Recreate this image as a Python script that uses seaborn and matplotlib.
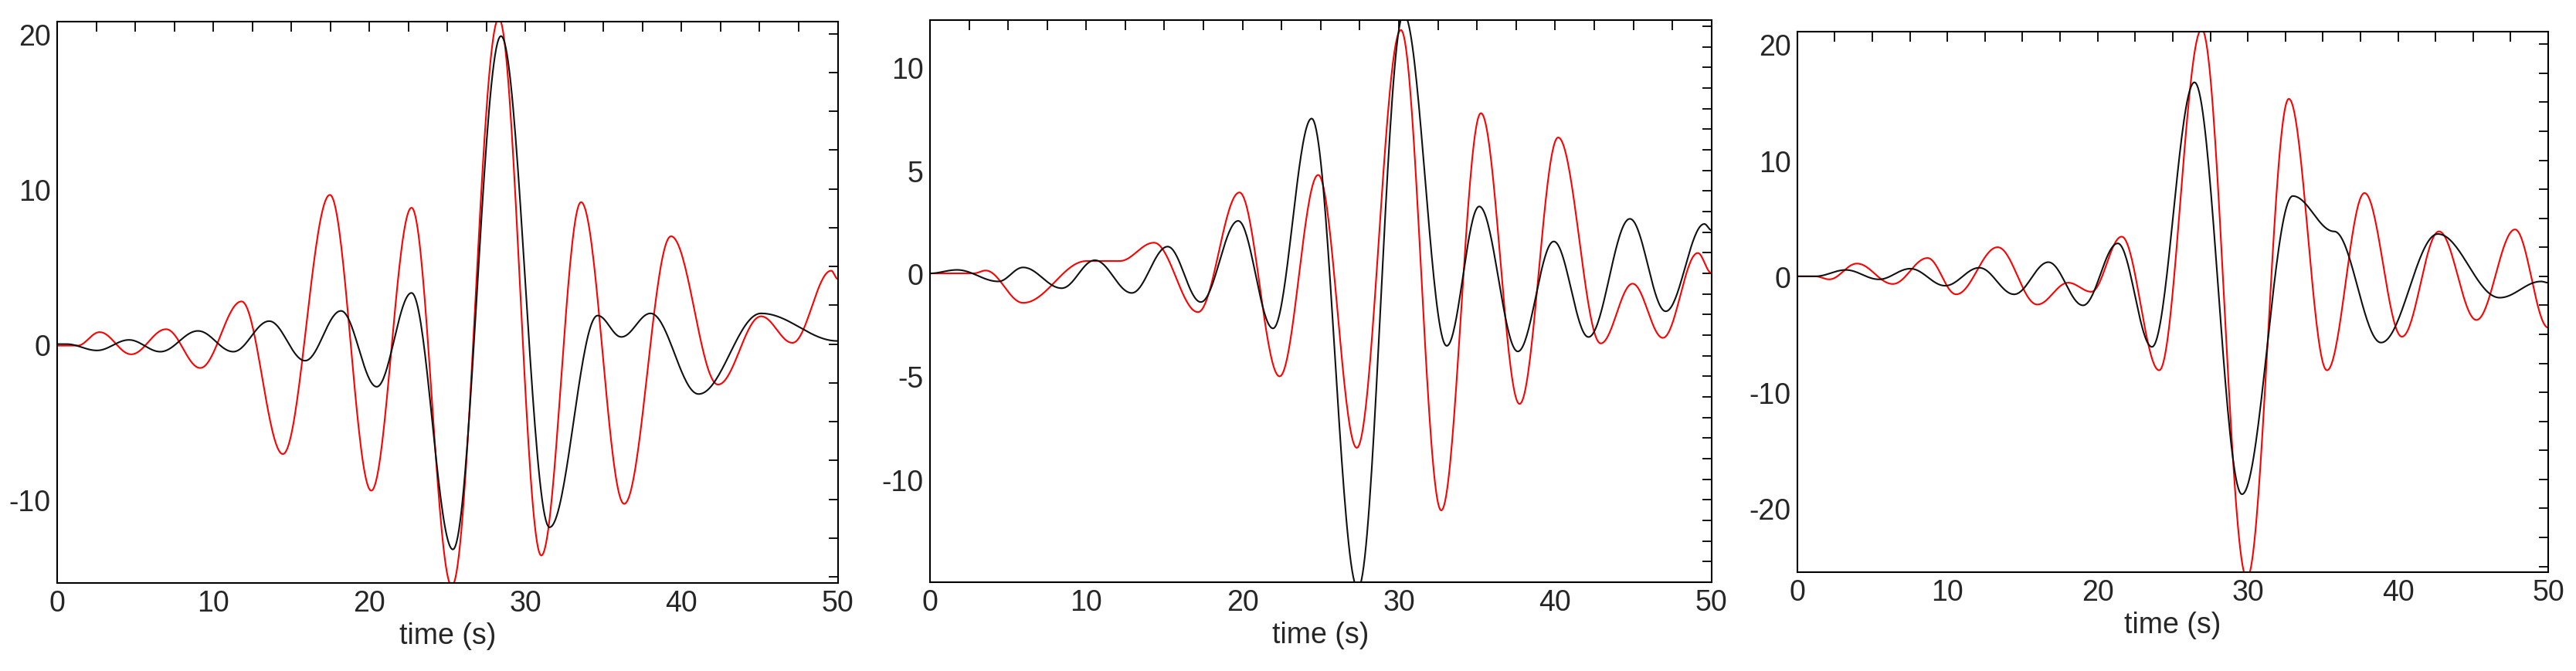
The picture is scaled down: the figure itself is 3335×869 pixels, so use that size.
import numpy as np
import pandas as pd
import matplotlib
matplotlib.use("Agg")
import matplotlib.pyplot as plt
from matplotlib.ticker import MultipleLocator
import seaborn as sns

# extrema: (time s, value)
p1_red_t = [0, 1.3, 2.72, 4.74, 6.97, 9.16, 11.81, 14.46, 17.47, 20.12, 22.70, 25.28, 28.29, 31.01, 33.56, 36.32, 39.32, 42.33, 45.09, 47.1, 49.58, 50]
p1_red_v = [-0.1, -0.1, 0.77, -0.66, 0.96, -1.54, 2.75, -7.09, 9.62, -9.45, 8.79, -15.6, 21.0, -13.63, 9.15, -10.3, 6.95, -2.61, 1.79, 0.08, 4.73, 4.2]
p1_blk_t = [0, 0.6, 2.55, 4.60, 6.61, 9.02, 11.28, 13.58, 15.88, 18.18, 20.47, 22.70, 25.35, 28.43, 31.54, 34.62, 36.14, 38.01, 41.09, 45.09, 50]
p1_blk_v = [0.0, 0.0, -0.41, 0.27, -0.49, 0.85, -0.49, 1.48, -1.07, 2.14, -2.75, 3.30, -13.24, 19.86, -11.81, 1.84, 0.46, 1.98, -3.22, 1.98, 0.2]

p2_red_t = [0, 2.8, 3.56, 5.96, 10.02, 12.14, 14.33, 17.15, 19.80, 22.37, 24.84, 27.31, 30.13, 32.71, 35.25, 37.72, 40.19, 42.91, 44.95, 46.89, 49.12, 50]
p2_red_v = [0.0, 0.0, 0.14, -1.43, 0.60, 0.60, 1.49, -1.88, 3.93, -5.0, 4.78, -8.47, 11.82, -11.51, 7.78, -6.34, 6.60, -3.40, -0.50, -3.13, 0.99, 0.02]
p2_blk_t = [0, 1.73, 4.38, 5.96, 8.43, 10.55, 12.91, 15.21, 17.33, 19.72, 21.95, 24.42, 27.38, 30.31, 33.06, 35.14, 37.61, 39.91, 42.13, 44.78, 47.07, 49.54, 50]
p2_blk_v = [0.0, 0.17, -0.39, 0.29, -0.72, 0.64, -0.95, 1.30, -1.39, 2.55, -2.67, 7.52, -15.3, 12.6, -3.52, 3.25, -3.79, 1.55, -3.09, 2.65, -1.84, 2.40, 2.1]

p3_red_t = [0, 1.2, 2.13, 3.97, 6.36, 8.67, 10.58, 13.34, 15.98, 18.04, 19.58, 21.60, 24.10, 26.93, 29.94, 32.73, 35.27, 37.77, 40.26, 42.73, 45.22, 47.79, 50]
p3_red_v = [0.0, 0.0, -0.26, 1.10, -0.66, 1.58, -1.55, 2.51, -2.43, -0.55, -1.33, 3.42, -8.1, 21.3, -26.0, 15.3, -8.1, 7.18, -5.2, 3.87, -3.76, 4.04, -4.42]
p3_blk_t = [0, 1.2, 3.23, 5.44, 7.53, 9.85, 12.12, 14.44, 16.72, 19.03, 21.34, 23.62, 26.45, 29.61, 32.99, 35.75, 38.87, 42.65, 46.77, 49.52, 50]
p3_blk_v = [0.0, 0.0, 0.55, -0.26, 0.66, -0.81, 0.74, -1.55, 1.22, -2.50, 2.84, -6.08, 16.72, -18.78, 6.92, 3.87, -5.71, 3.65, -1.84, -0.44, -0.55]

x_ticks = [0, 10, 20, 30, 40, 50]
y_ticks = [[-10, 0, 10, 20], [-10, -5, 0, 5, 10], [-20, -10, 0, 10, 20]]
y_lims = [(-15.4, 20.8), (-15.0, 12.3), (-25.5, 21.1)]
y_minor = [2.5, 1.0, 2.5]
positions = [[0.0222, 0.131, 0.303, 0.836], [0.361, 0.132, 0.3034, 0.837], [0.6977, 0.147, 0.2915, 0.805]]


def smooth(ts, vs, n=40):
    # render the read extrema as smooth half-cosine swings between them
    xs, ys = [], []
    for i in range(len(ts) - 1):
        s = np.linspace(0, 1, n, endpoint=False)
        xs.append(ts[i] + (ts[i + 1] - ts[i]) * s)
        ys.append(vs[i] + (vs[i + 1] - vs[i]) * (1 - np.cos(np.pi * s)) / 2)
    xs.append([ts[-1]]); ys.append([vs[-1]])
    return np.concatenate(xs), np.concatenate(ys)


sns.set_style("white")
plt.rcParams['font.family'] = ['Liberation Sans Narrow', 'Liberation Sans', 'DejaVu Sans']
plt.rcParams['axes.unicode_minus'] = False

fig = plt.figure(figsize=(33.35, 8.7), dpi=100)
series = [(p1_red_t, p1_red_v, p1_blk_t, p1_blk_v),
          (p2_red_t, p2_red_v, p2_blk_t, p2_blk_v),
          (p3_red_t, p3_red_v, p3_blk_t, p3_blk_v)]
for k, (rt, rv, bt, bv) in enumerate(series):
    ax = fig.add_axes(positions[k])
    xr, yr = smooth(rt, rv)
    xb, yb = smooth(bt, bv)
    df = pd.concat([pd.DataFrame({'t': xr, 'v': yr, 's': 'red'}),
                    pd.DataFrame({'t': xb, 'v': yb, 's': 'black'})])
    sns.lineplot(data=df, x='t', y='v', hue='s', palette={'red': '#ff0000', 'black': '#111111'},
                 linewidth=1.5, legend=False, ax=ax, sort=False, estimator=None)
    ax.set_xlim(0, 50)
    ax.set_ylim(*y_lims[k])
    ax.set_xticks(x_ticks)
    ax.set_yticks(y_ticks[k])
    ax.xaxis.set_minor_locator(MultipleLocator(2.5))
    ax.yaxis.set_minor_locator(MultipleLocator(y_minor[k]))
    ax.tick_params(which='both', direction='in', top=True, right=True, length=9, width=1.3,
                   labelsize=27, color='black', pad=6)
    ax.set_xlabel('time (s)', fontsize=27, labelpad=4)
    ax.set_ylabel('')
    for sp in ax.spines.values():
        sp.set_color('black'); sp.set_linewidth(1.5)

fig.savefig('out.png', dpi=100, facecolor='white')
